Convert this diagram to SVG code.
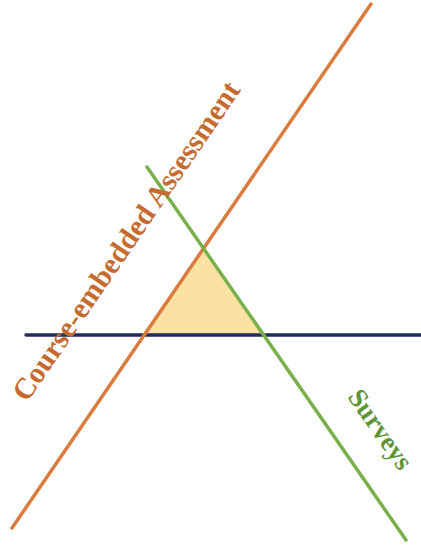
<svg xmlns="http://www.w3.org/2000/svg" width="421" height="554" viewBox="0 0 421 554">
<style>
.lbl{font-family:"Liberation Serif","Times New Roman",serif;font-weight:bold}
</style>
<rect width="421" height="554" fill="#ffffff"/>
<g id="triangle"><polygon points="144,335 203,250 262,335" fill="#fbe1a2"/></g>
<g id="connectors" stroke-linecap="round" fill="none">
<line id="navy" x1="26" y1="335" x2="421" y2="335" stroke="#1f2d5c" stroke-width="3.5"/>
<line id="orange" x1="12" y1="528" x2="371" y2="4" stroke="#d97c3e" stroke-width="3.5"/>
<line id="green" x1="147" y1="167" x2="406" y2="540" stroke="#78b04c" stroke-width="3.5"/>
</g>
<g id="label-course"><text class="lbl" font-size="29.5" fill="#c56b30" transform="translate(27,403) rotate(-55.6)">Course-embedded Assessment</text></g>
<g id="label-surveys"><text class="lbl" font-size="27" fill="#5f9437" transform="translate(347,397) rotate(55)">Surveys</text></g>
</svg>
